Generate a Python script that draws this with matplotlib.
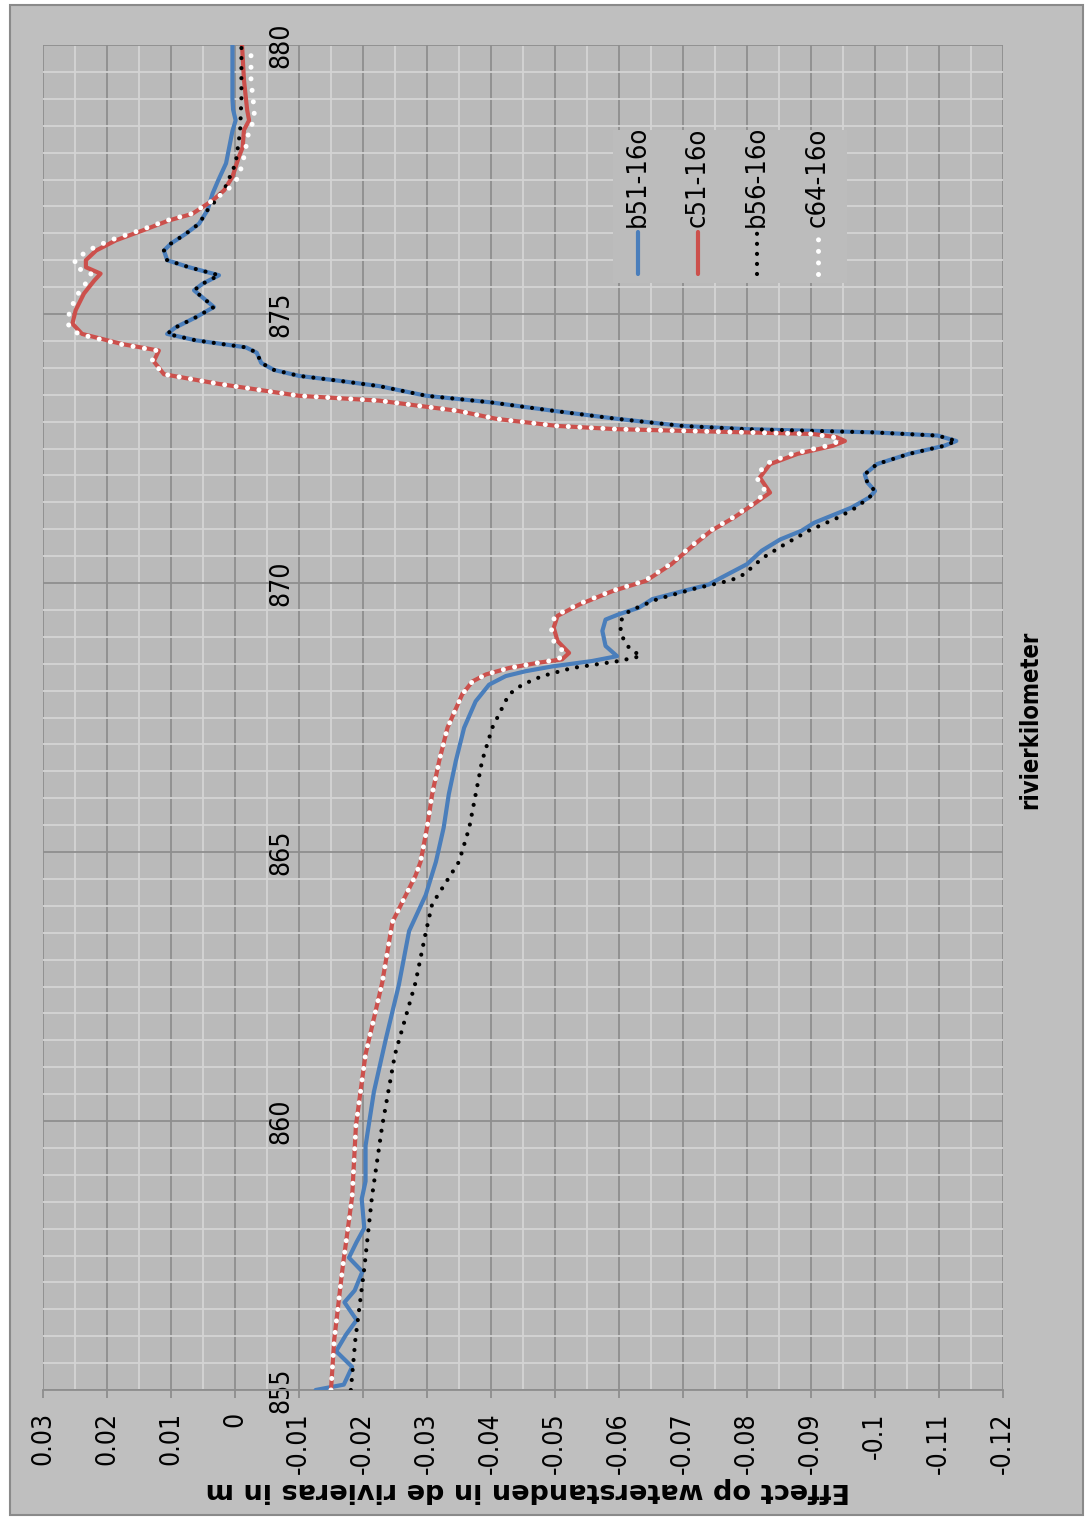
import matplotlib
matplotlib.use('Agg')
import matplotlib.pyplot as plt
from matplotlib import font_manager
from matplotlib.font_manager import FontProperties
from matplotlib.patches import Rectangle
from matplotlib.lines import Line2D

# ---------------- data ----------------
b51_km = [855.00, 855.10, 855.43, 855.72, 856.02, 856.30, 856.63, 856.85, 857.20, 857.46,
          857.75, 858.01, 858.55, 858.88, 859.54, 860.54, 861.54, 862.53, 863.53, 864.20,
          864.82, 865.45, 866.07, 866.69, 867.31, 867.80, 868.11, 868.27, 868.36, 868.45,
          868.55, 868.64, 868.83, 869.11, 869.32, 869.42, 869.54, 869.70, 869.85, 869.97,
          870.10, 870.35, 870.60, 870.81, 870.97, 871.12, 871.40, 871.59, 871.71, 871.87,
          872.02, 872.21, 872.40, 872.55, 872.64, 872.74, 872.80, 872.83, 872.86, 872.92,
          873.05, 873.20, 873.36, 873.48, 873.66, 873.76, 873.85, 873.96, 874.09, 874.28,
          874.38, 874.51, 874.63, 874.75, 874.94, 875.13, 875.31, 875.44, 875.56, 875.72,
          875.87, 876.00, 876.18, 876.31, 876.49, 876.68, 876.93, 877.24, 877.49, 877.80,
          878.10, 878.40, 878.60, 878.80, 879.00, 880.00]
b51_val = [-0.0126, -0.0170, -0.0183, -0.0158, -0.0173, -0.0190, -0.0171, -0.0187, -0.0199, -0.0178,
           -0.0190, -0.0202, -0.0198, -0.0204, -0.0204, -0.0217, -0.0236, -0.0256, -0.0272, -0.0298,
           -0.0314, -0.0326, -0.0334, -0.0345, -0.0358, -0.0376, -0.0397, -0.0423, -0.0454, -0.0496,
           -0.0558, -0.0597, -0.0579, -0.0574, -0.0579, -0.0600, -0.0631, -0.0652, -0.0700, -0.0740,
           -0.0760, -0.0800, -0.0823, -0.0852, -0.0885, -0.0905, -0.0963, -0.0991, -0.1000, -0.0988,
           -0.0984, -0.1003, -0.1053, -0.1108, -0.1127, -0.1098, -0.0997, -0.0898, -0.0799, -0.0699,
           -0.0598, -0.0498, -0.0398, -0.0299, -0.0225, -0.0162, -0.0100, -0.0061, -0.0041, -0.0034,
           -0.0017, 0.0061, 0.0106, 0.0093, 0.0061, 0.0033, 0.0051, 0.0064, 0.0051, 0.0025,
           0.0072, 0.0106, 0.0111, 0.0100, 0.0077, 0.0056, 0.0043, 0.0035, 0.0026, 0.0014,
           0.0009, 0.0004, -0.0001, 0.0003, 0.0004, 0.0004]

c51_km = [855.00, 855.93, 857.26, 858.59, 859.92, 861.24, 862.57, 863.70, 864.56, 864.82,
          865.45, 866.07, 866.69, 867.31, 867.93, 868.17, 868.30, 868.42, 868.52, 868.58,
          868.70, 868.92, 869.17, 869.39, 869.60, 869.85, 870.04, 870.35, 870.66, 870.97,
          871.22, 871.47, 871.68, 871.96, 872.21, 872.40, 872.55, 872.64, 872.71, 872.77,
          872.80, 872.83, 872.86, 872.92, 873.05, 873.20, 873.39, 873.48, 873.70, 873.88,
          874.12, 874.32, 874.44, 874.63, 874.82, 875.07, 875.38, 875.62, 875.75, 875.87,
          876.00, 876.18, 876.37, 876.55, 876.74, 876.86, 877.11, 877.30, 877.55, 877.92,
          878.10, 878.42, 878.60, 878.79, 879.35, 880.00]
c51_val = [-0.0150, -0.0155, -0.0168, -0.0183, -0.0189, -0.0204, -0.0230, -0.0246, -0.0282, -0.0290,
           -0.0300, -0.0308, -0.0319, -0.0332, -0.0355, -0.0371, -0.0392, -0.0428, -0.0475, -0.0511,
           -0.0522, -0.0504, -0.0498, -0.0504, -0.0538, -0.0590, -0.0642, -0.0682, -0.0712, -0.0744,
           -0.0780, -0.0811, -0.0836, -0.0820, -0.0836, -0.0879, -0.0934, -0.0953, -0.0940, -0.0903,
           -0.0799, -0.0694, -0.0595, -0.0503, -0.0409, -0.0348, -0.0225, -0.0100, 0.0025, 0.0111,
           0.0127, 0.0119, 0.0176, 0.0239, 0.0254, 0.0249, 0.0236, 0.0220, 0.0210, 0.0233,
           0.0233, 0.0217, 0.0186, 0.0145, 0.0103, 0.0067, 0.0035, 0.0017, 0.0004, -0.0006,
           -0.0012, -0.0014, -0.0022, -0.0019, -0.0014, -0.0011]

b56_km = [855.00, 855.93, 857.26, 858.59, 859.91, 861.24, 862.57, 863.50, 864.03, 864.82,
          865.45, 866.07, 866.69, 867.31, 867.93, 868.11, 868.27, 868.42, 868.55, 868.64,
          868.79, 869.04, 869.29, 869.48, 869.70, 869.90, 870.05, 870.16, 870.47, 870.72,
          870.97, 871.22, 871.40, 871.59, 871.71, 871.87, 872.02, 872.21, 872.40, 872.55,
          872.64, 872.74, 872.80, 872.83, 872.86, 872.92, 873.05, 873.20, 873.36, 873.48,
          873.66, 873.76, 873.85, 873.96, 874.09, 874.28, 874.38, 874.51, 874.63, 874.75,
          874.94, 875.13, 875.31, 875.44, 875.56, 875.72, 875.87, 876.00, 876.18, 876.31,
          876.49, 876.68, 876.93, 877.11, 877.36, 877.80, 878.40, 879.00, 880.00]
b56_val = [-0.0181, -0.0188, -0.0202, -0.0214, -0.0230, -0.0250, -0.0282, -0.0298, -0.0308, -0.0350,
           -0.0366, -0.0376, -0.0386, -0.0402, -0.0428, -0.0449, -0.0480, -0.0527, -0.0600, -0.0634,
           -0.0616, -0.0603, -0.0602, -0.0616, -0.0660, -0.0720, -0.0775, -0.0795, -0.0825, -0.0859,
           -0.0896, -0.0943, -0.0970, -0.0991, -0.1000, -0.0988, -0.0984, -0.1003, -0.1053, -0.1108,
           -0.1127, -0.1098, -0.0997, -0.0898, -0.0799, -0.0699, -0.0598, -0.0498, -0.0398, -0.0299,
           -0.0225, -0.0162, -0.0100, -0.0061, -0.0041, -0.0034, -0.0017, 0.0061, 0.0106, 0.0093,
           0.0061, 0.0033, 0.0051, 0.0064, 0.0051, 0.0025, 0.0072, 0.0106, 0.0111, 0.0100,
           0.0077, 0.0056, 0.0043, 0.0030, 0.0015, -0.0001, -0.0008, -0.0010, -0.0010]

c64_km = [855.00, 855.93, 857.26, 858.59, 859.92, 861.24, 862.57, 863.70, 864.56, 864.82,
          865.45, 866.07, 866.69, 867.31, 867.93, 868.17, 868.30, 868.42, 868.52, 868.58,
          868.70, 868.92, 869.17, 869.39, 869.60, 869.85, 870.04, 870.35, 870.66, 870.97,
          871.22, 871.47, 871.68, 871.96, 872.21, 872.40, 872.55, 872.64, 872.71, 872.77,
          872.80, 872.83, 872.86, 872.92, 873.05, 873.20, 873.39, 873.48, 873.70, 873.88,
          874.12, 874.32, 874.44, 874.63, 874.82, 875.07, 875.38, 875.62, 875.75, 875.87,
          876.00, 876.18, 876.37, 876.55, 876.74, 876.86, 877.11, 877.30, 877.55, 877.92,
          878.10, 878.42, 878.60, 878.79, 879.35, 880.00]
c64_val = [-0.0150, -0.0155, -0.0168, -0.0183, -0.0189, -0.0204, -0.0230, -0.0246, -0.0282, -0.0290,
           -0.0300, -0.0308, -0.0319, -0.0332, -0.0355, -0.0371, -0.0392, -0.0428, -0.0475, -0.0505,
           -0.0515, -0.0498, -0.0494, -0.0500, -0.0535, -0.0588, -0.0640, -0.0680, -0.0710, -0.0742,
           -0.0778, -0.0808, -0.0830, -0.0815, -0.0828, -0.0870, -0.0925, -0.0945, -0.0935, -0.0900,
           -0.0799, -0.0694, -0.0595, -0.0503, -0.0409, -0.0348, -0.0225, -0.0100, 0.0025, 0.0111,
           0.0130, 0.0122, 0.0180, 0.0245, 0.0262, 0.0258, 0.0245, 0.0230, 0.0225, 0.0250,
           0.0250, 0.0230, 0.0195, 0.0150, 0.0106, 0.0069, 0.0035, 0.0012, -0.0006, -0.0014,
           -0.0017, -0.0022, -0.0030, -0.0030, -0.0025, -0.0025]

series_names = ['b51-16o', 'c51-16o', 'b56-16o', 'c64-16o']
effect_ticks = [0.03, 0.02, 0.01, 0.0, -0.01, -0.02, -0.03, -0.04, -0.05, -0.06,
                -0.07, -0.08, -0.09, -0.10, -0.11, -0.12]
km_ticks = [855, 860, 865, 870, 875, 880]
x_title = 'Effect op waterstanden in de rivieras in m'
y_title = 'rivierkilometer'

# ---------------- fonts ----------------
names = {f.name for f in font_manager.fontManager.ttflist}
if 'Liberation Sans Narrow' in names:
    fp_narrow = FontProperties(family='Liberation Sans Narrow', size=20)
    fp_narrow_leg = FontProperties(family='Liberation Sans Narrow', size=21)
    fp_narrow_bold = FontProperties(family='Liberation Sans Narrow', weight='bold', size=20)
else:
    fp_narrow = FontProperties(family='DejaVu Sans', stretch='condensed', size=19)
    fp_narrow_leg = FontProperties(family='DejaVu Sans', stretch='condensed', size=19.5)
    fp_narrow_bold = FontProperties(family='DejaVu Sans', stretch='condensed', weight='bold', size=17)
fp_title = FontProperties(family='DejaVu Sans', weight='bold', size=19.5)

# ---------------- figure ----------------
W, H = 1090, 1521
fig = plt.figure(figsize=(W / 100, H / 100), dpi=100)
fig.patch.set_facecolor('white')
fig.patches.append(Rectangle((10 / W, 1 - 1515 / H), (1083 - 10) / W, (1515 - 5) / H,
                             transform=fig.transFigure, facecolor='#bfbfbf',
                             edgecolor='#8a8a8a', lw=1.5, zorder=-10))

ax = fig.add_axes([43 / W, 1 - 1390 / H, (1003 - 43) / W, (1390 - 45) / H])
ax.set_facecolor('#bababa')

styles = [
    dict(color='#4a7ebb', lw=3.0, ls='-', solid_capstyle='round', zorder=3),
    dict(color='#cc504c', lw=3.0, ls='-', solid_capstyle='round', zorder=3),
    dict(color='black', lw=3.0, ls=(0, (0.01, 2.4)), dash_capstyle='round', zorder=4),
    dict(color='white', lw=3.6, ls=(0, (0.01, 2.3)), dash_capstyle='round', zorder=5),
]
data = [(b51_val, b51_km), (c51_val, c51_km), (b56_val, b56_km), (c64_val, c64_km)]
for (xv, yv), st in zip(data, styles):
    ax.plot(xv, yv, **st)

ax.set_xlim(0.03, -0.12)
ax.set_ylim(855, 880)

# grid
minor_x = [v - 0.005 for v in effect_ticks[:-1]]
ax.set_xticks(effect_ticks)
ax.set_xticks(minor_x, minor=True)
ax.set_yticks(km_ticks)
ax.set_yticks([855 + 0.5 * i for i in range(51) if i % 10 != 0], minor=True)
ax.grid(which='major', color='#8e8e8e', lw=1.3, zorder=0)
ax.grid(which='minor', color='#d4d4d4', lw=1.3, zorder=0)
ax.set_axisbelow(True)

for s in ['top', 'left']:
    ax.spines[s].set_visible(False)
ax.spines['bottom'].set_color('#8e8e8e')
ax.spines['bottom'].set_linewidth(1.3)
ax.spines['right'].set_position(('data', 0))
ax.spines['right'].set_visible(False)

def fmt(v):
    s = f'{v:.2f}'.rstrip('0').rstrip('.')
    if s in ('-0', '', '0'):
        s = '0'
    return s

ax.set_xticklabels([fmt(v) for v in effect_ticks])
ax.tick_params(axis='x', which='major', direction='out', length=6, width=1.3,
               color='#8e8e8e', pad=10, labelrotation=90)
ax.tick_params(axis='x', which='minor', length=0)
for lab in ax.get_xticklabels():
    lab.set_fontproperties(fp_narrow)
    lab.set_va('top')
    lab.set_ha('center')

ax.yaxis.set_ticks_position('right')
ax.set_yticklabels([str(k) for k in km_ticks])
ax.tick_params(axis='y', which='both', length=0, pad=24, labelrotation=90)
for lab in ax.get_yticklabels():
    lab.set_fontproperties(fp_narrow)
    lab.set_va('center')
    lab.set_ha('left')

# legend (rotated, drawn by hand)
ax.add_patch(Rectangle((0.594, 0.823), 0.244, 0.114, transform=ax.transAxes,
                       facecolor='#bcbcbc', edgecolor='none', zorder=6))
leg_x = [0.620, 0.682, 0.744, 0.807]
for x, name, st in zip(leg_x, series_names, styles):
    st2 = dict(st)
    st2['zorder'] = 7
    ax.add_line(Line2D([x, x], [0.830, 0.861], transform=ax.transAxes, **st2))
    ax.text(x, 0.865, name, rotation=90, ha='center', va='bottom',
            transform=ax.transAxes, fontproperties=fp_narrow_leg, zorder=8)

fig.text(1030 / W, 1 - 720 / H, y_title, rotation=90, ha='center', va='center',
         fontproperties=fp_narrow_bold)
fig.text(528 / W, 1 - 1490 / H, x_title, rotation=180, ha='center', va='center',
         fontproperties=fp_title)

fig.savefig('out.png', dpi=100, facecolor=fig.get_facecolor())
